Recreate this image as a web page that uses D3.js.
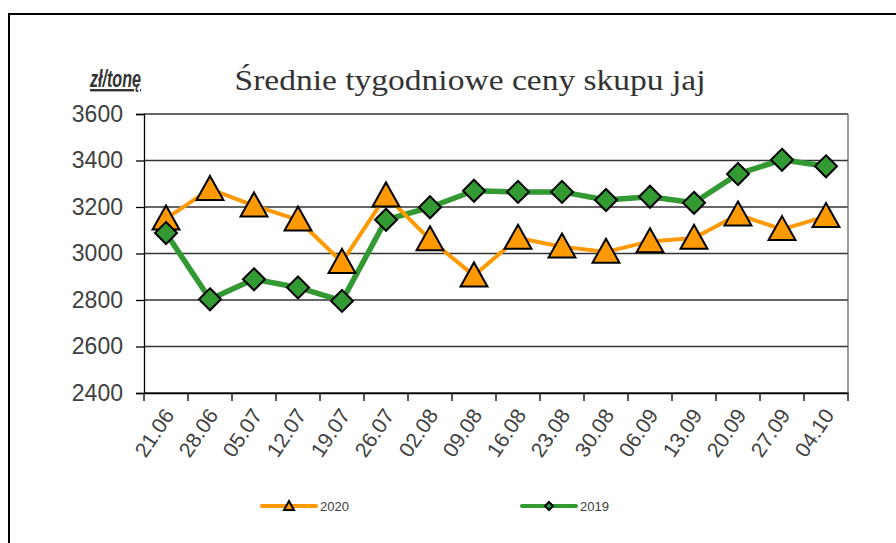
<!DOCTYPE html>
<html>
<head>
<meta charset="utf-8">
<script src="https://cdn.jsdelivr.net/npm/d3@7"></script>
<style>
  body { margin: 0; background: #fff; }
  svg { display: block; }
</style>
</head>
<body>
<div id="chart"></div>
<script>
// weekly dates (category axis)
const weeks = ["21.06", "28.06", "05.07", "12.07", "19.07", "26.07", "02.08", "09.08",
               "16.08", "23.08", "30.08", "06.09", "13.09", "20.09", "27.09", "04.10"];
// prices 2020, zł/tonę
const prices2020 = [3150, 3277, 3206, 3145, 2963, 3249, 3060, 2905,
                    3067, 3029, 3007, 3052, 3067, 3167, 3104, 3160];
// prices 2019, zł/tonę
const prices2019 = [3088, 2803, 2889, 2854, 2796, 3145, 3199, 3270,
                    3265, 3265, 3230, 3244, 3218, 3342, 3403, 3375];
const yTicks = [2400, 2600, 2800, 3000, 3200, 3400, 3600];

const width = 896, height = 543;
const margin = {top: 114, right: 48, bottom: 150, left: 144};
const chartWidth = width - margin.left - margin.right;
const chartHeight = height - margin.top - margin.bottom;

const svg = d3.select("#chart")
  .append("svg")
  .attr("width", width)
  .attr("height", height);

// outer frame
svg.append("rect")
  .attr("x", 9).attr("y", 14)
  .attr("width", 900).attr("height", 540)
  .attr("fill", "none")
  .attr("stroke", "#000")
  .attr("stroke-width", 2);

const xScale = d3.scaleBand().domain(weeks).range([0, chartWidth]).padding(0);
const yScale = d3.scaleLinear().domain([2400, 3600]).range([chartHeight, 0]);

const g = svg.append("g")
  .attr("transform", `translate(${margin.left},${margin.top})`);

// horizontal grid
g.selectAll("line.grid")
  .data(yTicks)
  .enter()
  .append("line")
  .attr("class", "grid")
  .attr("x1", 0)
  .attr("x2", chartWidth)
  .attr("y1", d => yScale(d))
  .attr("y2", d => yScale(d))
  .style("stroke", "#333")
  .style("stroke-width", 1.3);

// right border of plot
g.append("line")
  .attr("x1", chartWidth).attr("x2", chartWidth)
  .attr("y1", 0).attr("y2", chartHeight)
  .style("stroke", "#666")
  .style("stroke-width", 1.3);

// left axis
const yAxis = g.append("g")
  .call(d3.axisLeft(yScale).tickValues(yTicks).tickSize(8).tickPadding(13).tickFormat(d3.format("d")));
yAxis.select(".domain").style("stroke", "#000").style("stroke-width", 1.3);
yAxis.selectAll(".tick line").style("stroke", "#000").style("stroke-width", 1.3);
yAxis.selectAll("text")
  .style("font-family", "Arial, 'Liberation Sans', sans-serif")
  .style("font-size", "23px")
  .style("fill", "#404040");

// bottom axis: labels at band centres, ticks at band boundaries
const xAxis = g.append("g")
  .attr("transform", `translate(0,${chartHeight})`)
  .call(d3.axisBottom(xScale).tickSize(0).tickPadding(0));
xAxis.select(".domain").style("stroke", "#000").style("stroke-width", 1.3);
xAxis.selectAll("text")
  .attr("text-anchor", "end")
  .attr("transform", "translate(3,18) rotate(-56)")
  .attr("dy", "0.35em")
  .style("font-family", "Arial, 'Liberation Sans', sans-serif")
  .style("font-size", "21px")
  .style("fill", "#404040");

const boundaries = d3.range(weeks.length + 1);
g.selectAll("line.xtick")
  .data(boundaries)
  .enter()
  .append("line")
  .attr("class", "xtick")
  .attr("x1", d => d * xScale.step())
  .attr("x2", d => d * xScale.step())
  .attr("y1", chartHeight)
  .attr("y2", chartHeight + 8)
  .style("stroke", "#000")
  .style("stroke-width", 1.3);

const cx = (d, i) => xScale(weeks[i]) + xScale.bandwidth() / 2;

const line = d3.line()
  .x((d, i) => cx(d, i))
  .y(d => yScale(d));

// 2019 line
g.append("path")
  .datum(prices2019)
  .attr("d", line)
  .style("fill", "none")
  .style("stroke", "#339933")
  .style("stroke-width", 5.5)
  .style("stroke-linejoin", "round");

// 2020 line
g.append("path")
  .datum(prices2020)
  .attr("d", line)
  .style("fill", "none")
  .style("stroke", "#FF9900")
  .style("stroke-width", 4)
  .style("stroke-linejoin", "round");

// marker shapes
const tri = (s) => `M0,${-s * 0.55} L${s * 0.56},${s * 0.45} L${-s * 0.56},${s * 0.45} Z`;
const diamond = (s) => `M0,${-s / 2} L${s / 2},0 L0,${s / 2} L${-s / 2},0 Z`;

g.selectAll("path.m2020")
  .data(prices2020)
  .enter()
  .append("path")
  .attr("class", "m2020")
  .attr("d", tri(24))
  .attr("transform", (d, i) => `translate(${cx(d, i)},${yScale(d)})`)
  .style("fill", "#FF9900")
  .style("stroke", "#000")
  .style("stroke-width", 2)
  .style("stroke-linejoin", "miter");

g.selectAll("path.m2019")
  .data(prices2019)
  .enter()
  .append("path")
  .attr("class", "m2019")
  .attr("d", diamond(22))
  .attr("transform", (d, i) => `translate(${cx(d, i)},${yScale(d)})`)
  .style("fill", "#339933")
  .style("stroke", "#000")
  .style("stroke-width", 2);

// Title
svg.append("text")
  .attr("x", 470)
  .attr("y", 90)
  .attr("text-anchor", "middle")
  .attr("textLength", 471)
  .attr("lengthAdjust", "spacingAndGlyphs")
  .style("font-family", "'Liberation Serif', 'DejaVu Serif', serif")
  .style("font-size", "29px")
  .style("fill", "#333")
  .text("Średnie tygodniowe ceny skupu jaj");

// unit label (narrow in the original)
svg.append("text")
  .attr("x", 90)
  .attr("y", 87)
  .attr("textLength", 51)
  .attr("lengthAdjust", "spacingAndGlyphs")
  .style("font-family", "Arial, 'Liberation Sans', sans-serif")
  .style("font-size", "24px")
  .style("font-weight", "bold")
  .style("font-style", "italic")
  .style("text-decoration", "underline")
  .style("fill", "#333")
  .text("zł/tonę");

// Legend
const legend = [
  {name: "2020", color: "#FF9900", x: 262, shape: tri(9)},
  {name: "2019", color: "#339933", x: 522, shape: diamond(8)}
];
const lg = svg.selectAll("g.legend")
  .data(legend)
  .enter()
  .append("g")
  .attr("class", "legend")
  .attr("transform", d => `translate(${d.x},506)`);
lg.append("line")
  .attr("x1", 0).attr("x2", 54)
  .attr("y1", 0).attr("y2", 0)
  .style("stroke", d => d.color)
  .style("stroke-width", 4)
  .style("stroke-linecap", "round");
lg.append("path")
  .attr("d", d => d.shape)
  .attr("transform", "translate(27,0)")
  .style("fill", d => d.color)
  .style("stroke", "#000")
  .style("stroke-width", 2);
lg.append("text")
  .attr("x", 58)
  .attr("y", 5)
  .style("font-family", "Arial, 'Liberation Sans', sans-serif")
  .style("font-size", "13px")
  .style("fill", "#404040")
  .text(d => d.name);
</script>
</body>
</html>
